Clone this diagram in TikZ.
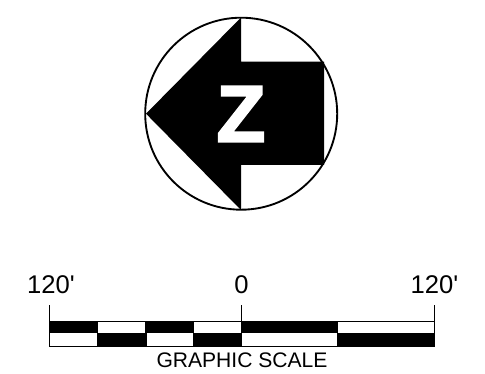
\documentclass[tikz,border=0pt]{standalone}
\usepackage{fontspec}
\setmainfont{Liberation Sans}
\newfontfamily\markfont[FakeBold=2.6]{Liberation Sans Bold}
\usetikzlibrary{positioning}

\begin{document}
\begin{tikzpicture}[
  x=0.75pt,
  y=-0.75pt,
  ring/.style={draw, line width=1.4pt},
  pointer/.style={fill=black},
  blackbar/.style={fill=black},
  scaleline/.style={draw, line width=1.1pt},
  northmark/.style={text=white, font=\fontsize{60}{60}\selectfont\markfont, inner sep=0pt},
  lengthlabel/.style={font=\fontsize{19.2}{19.2}\selectfont, inner sep=0pt},
  scalename/.style={font=\fontsize{15.8}{15.8}\selectfont, inner sep=0pt}
]
\useasboundingbox (0,0) rectangle (485,374);

% North arrow
\draw[ring] (241.2,113.7) circle [radius=96];
\fill[pointer] (146,113.7) -- (241,17.5) -- (241,61.7) -- (324,61.7)
  -- (324,165) -- (241,165) -- (241,210) -- cycle;
\node[northmark] (north) at (241,114) {Z};

% Upper row of the bar
\fill[blackbar] (49.5,321.5) rectangle (98,333);
\fill[blackbar] (145,321.5) rectangle (194,333);
\fill[blackbar] (241.5,321.5) rectangle (338,333);

% Lower row of the bar
\fill[blackbar] (97,333) rectangle (146.5,346.5);
\fill[blackbar] (193,333) rectangle (241.5,346.5);
\fill[blackbar] (337,333) rectangle (434.5,346.5);

% Outline and ticks
\draw[scaleline] (49.5,305) -- (49.5,346.5) -- (434.5,346.5) -- (434.5,305);
\draw[scaleline] (49.5,321.5) -- (434.5,321.5);
\draw[scaleline] (241.5,305) -- (241.5,346.5);

% Labels
\node[lengthlabel] (leftend) at (51,285) {120\textquotesingle};
\node[lengthlabel] (zero) at (241.5,285) {0};
\node[lengthlabel] (rightend) at (434.5,285) {120\textquotesingle};
\node[scalename] (title) at (242,360) {GRAPHIC SCALE};

\end{tikzpicture}
\end{document}
